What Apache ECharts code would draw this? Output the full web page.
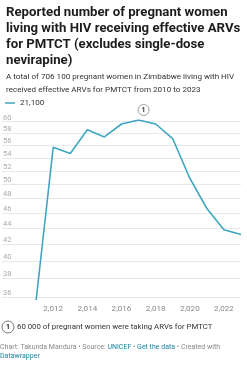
<!DOCTYPE html>
<html>
<head>
<meta charset="utf-8">
<script src="https://cdn.jsdelivr.net/npm/echarts@6/dist/echarts.min.js"></script>
<style>
html,body{margin:0;padding:0;background:#fff}
#main{width:247px;height:365px}
</style>
</head>
<body>
<div id="main"></div>
<script>
// data (thousands of women)
var years = [2011, 2012, 2013, 2014, 2015, 2016, 2017, 2018, 2019, 2020, 2021, 2022, 2023];
var values = [35.7, 55.7, 54.7, 58.6, 57.4, 59.6, 60.3, 59.6, 57.1, 50.9, 46.6, 43.8, 43.2];
var yTicks = [36, 38, 40, 42, 44, 46, 48, 50, 52, 54, 56, 58, 60];
var xTicks = [2012, 2014, 2016, 2018, 2020, 2022];
var seriesName = '21,100';
var noteYear = 2017;
var noteText = '60 000 of pregnant women were taking ARVs for PMTCT';

var font = 'Roboto, "Noto Sans", sans-serif';

function load_chart(){
	var chart = echarts.init(document.getElementById('main'));

	var lineData = [];
	for(var i = 0;i<years.length;i++){
		lineData.push([years[i], values[i]]);
	}
	var noteValue = values[years.indexOf(noteYear)];

	var option = {
		animation: false,
		textStyle: {fontFamily: font},
		title: {
			left: 1,
			top: 0,
			text: 'Reported number of pregnant women\nliving with HIV receiving effective ARVs\nfor PMTCT (excludes single-dose\nnevirapine)',
			textStyle: {fontFamily: font, fontSize: 13.2, fontWeight: 'bold', color: '#1d1d1d', lineHeight: 16},
			subtext: 'A total of 706 100 pregnant women in Zimbabwe living with HIV\nreceived effective ARVs for PMTCT from 2010 to 2023',
			subtextStyle: {fontFamily: font, fontSize: 8.1, color: '#333', lineHeight: 12.5},
			itemGap: 2
		},
		legend: {
			left: 0,
			top: 94,
			icon: 'rect',
			itemWidth: 10,
			itemHeight: 1.5,
			itemGap: 4,
			textStyle: {fontFamily: font, fontSize: 8.1, color: '#333'},
			data: [seriesName]
		},
		grid: {left: 0, right: 6, top: 120, bottom: 65},
		xAxis: {
			type: 'value',
			min: 2009,
			max: 2023,
			axisLine: {show: false},
			axisTick: {show: false},
			splitLine: {show: false},
			axisLabel: {
				customValues: xTicks,
				color: '#888',
				fontSize: 8.1,
				margin: 5
			}
		},
		yAxis: {
			type: 'log',
			logBase: Math.E,
			min: 'dataMin',
			max: 'dataMax',
			axisLine: {show: false},
			axisTick: {show: false, customValues: yTicks},
			splitLine: {show: true, lineStyle: {color: '#e8e8e8', width: 1}},
			axisLabel: {
				customValues: yTicks,
				inside: true,
				margin: 1,
				verticalAlign: 'bottom',
				color: '#aaa',
				fontSize: 7.5
			}
		},
		series: [
			{
				name: seriesName,
				type: 'line',
				data: lineData,
				showSymbol: false,
				color: '#3ea6c0',
				lineStyle: {width: 1.6, color: '#3ea6c0'},
				markPoint: {
					symbol: 'circle',
					symbolSize: 11,
					itemStyle: {color: '#fff', borderColor: '#8a8a8a', borderWidth: 0.8},
					label: {show: true, formatter: '1', color: '#333', fontSize: 7, fontWeight: 'bold', fontFamily: font},
					data: [{coord: [noteYear, noteValue], symbolOffset: [5, -10]}]
				}
			}
		],
		graphic: [
			{type: 'circle', shape: {cx: 8, cy: 327, r: 6}, style: {fill: '#fff', stroke: '#555', lineWidth: 0.8}},
			{type: 'text', x: 8, y: 327, style: {text: '1', fill: '#222', font: 'bold 7px ' + font, align: 'center', verticalAlign: 'middle'}},
			{type: 'text', x: 17, y: 327, style: {text: noteText, fill: '#333', font: '7.8px ' + font, verticalAlign: 'middle'}},
			{
				type: 'text', x: 0, y: 342,
				style: {
					text: '{g|Chart: Takunda Mandura • Source: }{b|UNICEF}{g| • }{b|Get the data}{g| • Created with}\n{b|Datawrapper}',
					font: '7px ' + font,
					lineHeight: 9.5,
					rich: {
						g: {fill: '#888', fontSize: 7, fontFamily: font, lineHeight: 9.5},
						b: {fill: '#1d81a2', fontSize: 7, fontFamily: font, lineHeight: 9.5}
					}
				}
			}
		]
	};

	chart.setOption(option);
}

load_chart();
</script>
</body>
</html>
